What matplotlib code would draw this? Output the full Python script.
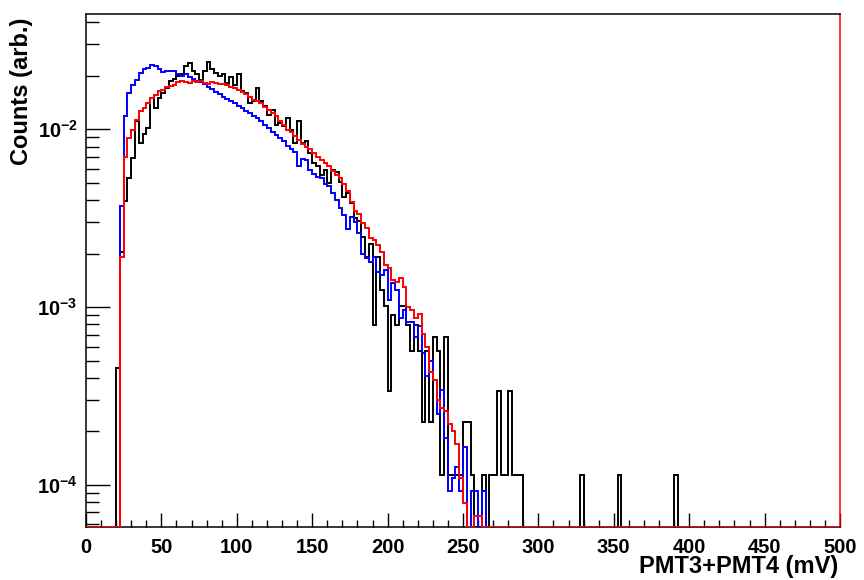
import numpy as np
import matplotlib
matplotlib.use('Agg')
import matplotlib.pyplot as plt
from matplotlib.ticker import MultipleLocator, LogLocator, FuncFormatter, NullFormatter

plt.rcParams['font.family'] = ['Liberation Sans', 'DejaVu Sans']
plt.rcParams['font.weight'] = 'bold'
plt.rcParams['mathtext.fontset'] = 'custom'
plt.rcParams['mathtext.rm'] = 'Liberation Sans:bold'
plt.rcParams['mathtext.bf'] = 'Liberation Sans:bold'
plt.rcParams['mathtext.it'] = 'Liberation Sans:bold'

#==================================== data ===========================================
# 2.5 mV bins from 0 to 500 mV, lists start at the 20 mV bin
BIN_WIDTH = 2.5
START_MV = 20.0
X_MIN, X_MAX = 0.0, 500.0
Y_MIN, Y_MAX = 5.8e-5, 4.45e-2

# simulation (blue), units of 1e-3
blue_e3 = [0.0, 3.7, 11.9, 16.0, 17.8, 19.0, 20.7, 21.7, 22.1, 23.1, 22.6,
           21.7, 21.0, 21.2, 21.4, 21.2, 20.5, 20.0, 20.4, 19.6, 19.3,
           18.8, 18.5, 18.0, 17.4, 16.8, 16.2, 15.7, 15.2, 14.8, 14.4,
           14.0, 13.6, 13.2, 12.7, 12.3, 11.9, 11.5, 11.1, 10.6, 10.2,
           9.7, 9.3, 8.9, 8.6, 8.1, 7.7, 7.5, 6.2, 6.8, 6.7,
           5.9, 5.6, 5.4, 5.3, 4.9, 4.8, 4.4, 4.0, 3.6, 3.3,
           2.75, 3.2, 3.0, 2.6, 2.0, 1.9, 1.80, 1.92, 1.58, 1.52,
           1.62, 1.10, 1.36, 1.25, 0.87, 0.96, 0.83, 0.83, 0.68, 0.78,
           0.55, 0.41, 0.50, 0.39, 0.25, 0.34, 0.183, 0.093, 0.11, 0.126,
           0.093, 0.163, 0.0, 0.093, 0.093, 0.0, 0.093]

# simulation (red), units of 1e-3
red_e3 = [0.0, 1.92, 7.0, 8.9, 9.9, 11.3, 12.6, 13.2, 14.0, 15.0, 15.5,
          16.4, 16.7, 17.2, 17.5, 17.8, 18.4, 18.8, 18.5, 18.2, 18.6,
          18.4, 18.6, 18.3, 18.0, 18.4, 18.2, 17.9, 17.9, 17.8, 17.4,
          17.0, 16.6, 16.2, 15.7, 15.2, 14.7, 14.4, 14.1, 13.4, 12.8,
          12.4, 11.9, 11.1, 10.6, 9.95, 9.6, 9.2, 8.7, 8.3, 8.0,
          7.7, 7.4, 7.0, 6.74, 6.5, 6.2, 5.8, 5.5, 5.35, 4.9,
          4.5, 3.9, 3.45, 3.35, 2.96, 2.78, 2.44, 2.39, 2.24, 2.03,
          1.73, 1.66, 1.42, 1.39, 1.45, 1.30, 1.00, 0.96, 0.87, 0.92,
          0.71, 0.60, 0.43, 0.39, 0.30, 0.27, 0.26, 0.22, 0.20, 0.17,
          0.11, 0.079, 0.0, 0.0, 0.067, 0.067]

# data (black), raw counts per bin
black_counts = [4, 18, 35, 47, 61, 98, 74, 83, 90, 133, 117,
                133, 142, 151, 165, 170, 176, 180, 200, 209, 188,
                180, 168, 188, 212, 192, 183, 176, 180, 161, 175,
                158, 180, 145, 142, 124, 127, 151, 127, 119, 107,
                114, 94, 96, 92, 102, 88, 74, 98, 74, 76,
                65, 57, 55, 49, 52, 44, 52, 51, 45, 37,
                39, 34, 28, 27, 22, 17, 20, 7, 17, 11,
                9, 3, 8, 7, 9, 9, 7, 5, 7, 5,
                2, 5, 2, 6, 5, 1, 6, 1, 1, 1,
                1, 2, 2, 1, 0, 0, 1, 0, 1, 1,
                3, 1, 1, 3, 1, 1, 1]
black_tail_mv = [327.5, 352.5, 390.0]
black_tail_counts = [1, 1, 1]
black_per_count = 1.13e-4

#==================================== histograms =====================================
edges = np.arange(X_MIN, X_MAX + BIN_WIDTH / 2, BIN_WIDTH)
n_bins = len(edges) - 1
i0 = int(round(START_MV / BIN_WIDTH))


def fill_bins(values):
    h = np.zeros(n_bins)
    h[i0:i0 + len(values)] = values
    return h


h_black = fill_bins(np.array(black_counts, dtype=float))
for mv, c in zip(black_tail_mv, black_tail_counts):
    h_black[int(round(mv / BIN_WIDTH))] = c
h_black = h_black * black_per_count
h_red = fill_bins(np.array(red_e3) * 1e-3)
h_blue = fill_bins(np.array(blue_e3) * 1e-3)


def on_log(h):
    # empty bins sit on the lower frame like in ROOT
    return np.where(h > 0, h, Y_MIN)


#==================================== figure =========================================
fig = plt.figure(figsize=(8.64, 5.8), dpi=100)
ax = fig.add_axes([86 / 864, 1 - 527 / 580, (840 - 86) / 864, (527 - 14) / 580])

ax.stairs(on_log(h_black), edges, baseline=None, color='black', lw=1.4, zorder=3)
ax.stairs(on_log(h_blue)[i0:], edges[i0:], baseline=None, color='#0000ff', lw=1.4, zorder=3)
ax.stairs(on_log(h_red), edges, baseline=None, color='#ff0000', lw=1.4, zorder=3)

ax.set_yscale('log')
ax.set_xlim(X_MIN, X_MAX)
ax.set_ylim(Y_MIN, Y_MAX)

ax.xaxis.set_major_locator(MultipleLocator(50))
ax.xaxis.set_minor_locator(MultipleLocator(10))
ax.yaxis.set_major_locator(LogLocator(base=10, numticks=10))
ax.yaxis.set_minor_locator(LogLocator(base=10, subs=np.arange(2, 10), numticks=20))
ax.yaxis.set_minor_formatter(NullFormatter())
ax.yaxis.set_major_formatter(FuncFormatter(
    lambda v, _: r'$\mathbf{10^{%d}}$' % int(round(np.log10(v)))))

ax.tick_params(axis='both', which='both', direction='in', top=False, right=False,
               width=1.0, labelsize=14.5)
ax.tick_params(axis='x', which='major', length=10, pad=8)
ax.tick_params(axis='x', which='minor', length=5)
ax.tick_params(axis='y', which='major', length=17, pad=6)
ax.tick_params(axis='y', which='minor', length=9)
for lbl in ax.get_xticklabels():
    lbl.set_fontweight('bold')

for side in ['left', 'bottom', 'top', 'right']:
    ax.spines[side].set_linewidth(1.1)
ax.spines['right'].set_color('#ff0000')

fig.text(838 / 864, 1 - 567 / 580, 'PMT3+PMT4 (mV)', ha='right', va='center',
         fontsize=17, fontweight='bold')
fig.text(22 / 864, 1 - 91 / 580, 'Counts (arb.)', ha='center', va='center',
         rotation=90, fontsize=17, fontweight='bold')

fig.savefig('out.png', dpi=100)
